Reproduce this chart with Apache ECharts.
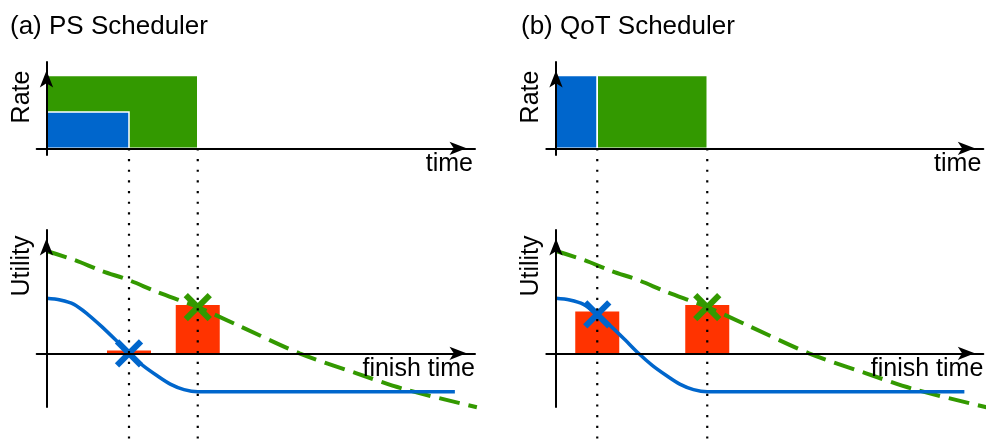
<!DOCTYPE html>
<html>
<head>
<meta charset="utf-8">
<script src="https://cdn.jsdelivr.net/npm/echarts@6/dist/echarts.min.js"></script>
<style>
  html, body { margin: 0; padding: 0; background: #fff; }
  #chart { width: 987px; height: 439px; }
</style>
</head>
<body>
<div id="chart"></div>
<script>
// ---- data ----------------------------------------------------------
const panelTitles = ['(a) PS Scheduler', '(b) QoT Scheduler'];
const rateLabel = 'Rate';
const utilityLabel = 'Utility';
const timeLabel = 'time';
const finishLabel = 'finish time';

// rate allocation intervals: [start, end, rate]
const psGreenRate = [[0, 11, 1]];
const psBlueRate = [[0, 6, 0.5]];
const qotBlueRate = [[0, 3, 1]];
const qotGreenRate = [[3, 11, 1]];

// job finish times (dotted guides)
const psFinish = [6, 11];
const qotFinish = [3, 11];

// utility functions over finish time
const blueUtilX = [0, 1, 2, 3, 4, 5, 6, 7, 8, 9, 10, 11, 29.7];
const blueUtilY = [1.0, 0.97, 0.89, 0.71, 0.49, 0.25, 0, -0.22, -0.40, -0.56, -0.66, -0.70, -0.70];
const greenUtilX = [0, 2, 4, 6, 8, 11, 14, 18.4, 22.5, 26, 31.3];
const greenUtilY = [1.86, 1.70, 1.50, 1.33, 1.12, 0.84, 0.50, 0, -0.36, -0.65, -0.98];

// utility obtained by each job: [finish time, utility]
const psGained = [[6, 0.05], [11, 0.88]];
const qotGained = [[3, 0.76], [11, 0.88]];

// points where each job lands on its utility curve
const psBlueCross = [[6, 0]];
const psGreenCross = [[11, 0.84]];
const qotBlueCross = [[3, 0.71]];
const qotGreenCross = [[11, 0.84]];

// ---- styling / layout ----------------------------------------------
const BLUE = '#0066CC', GREEN = '#339900', RED = '#FF3300';
const FONT = '"Liberation Sans", Arial, sans-serif';
const FS = 25;
const TITLE_FS = 26;
const PX_PER_T = 13.75;
const panels = [
  { start: 36.7, origin: 46.5, tip: 475, titleX: 10,
    rates: [[psGreenRate, GREEN], [psBlueRate, BLUE]],
    finish: psFinish, gained: psGained,
    crosses: [[psGreenCross, GREEN], [psBlueCross, BLUE]] },
  { start: 546.3, origin: 556, tip: 983.3, titleX: 521,
    rates: [[qotBlueRate, BLUE], [qotGreenRate, GREEN]],
    finish: qotFinish, gained: qotGained,
    crosses: [[qotGreenCross, GREEN], [qotBlueCross, BLUE]] }
];

const arrowLine = {
  show: true, onZero: true,
  symbol: ['none', 'arrow'], symbolSize: [10, 17], symbolOffset: [0, -8.5],
  lineStyle: { color: '#000', width: 2 }
};
const hiddenBits = { axisTick: { show: false }, axisLabel: { show: false }, splitLine: { show: false } };

const grid = [], xAxis = [], yAxis = [], series = [], graphic = [], title = [];

function label(text, x, y, rotate) {
  return { type: 'text', x: x, y: y, rotation: rotate ? Math.PI / 2 : 0, z: 10,
    style: { text: text, font: FS + 'px ' + FONT, fill: '#000',
      align: rotate ? 'center' : 'right', textAlign: rotate ? 'center' : 'right',
      verticalAlign: 'middle', textVerticalAlign: 'middle' } };
}

panels.forEach(function (p, i) {
  const xmin = -(p.origin - p.start) / PX_PER_T;
  const xmax = (p.tip - p.origin) / PX_PER_T;
  const width = p.tip - p.start;
  const g0 = grid.length;

  // rate chart, utility chart, full-height overlay for finish-time guides
  grid.push({ left: p.start, top: 62, width: width, height: 93, containLabel: false });
  grid.push({ left: p.start, top: 230, width: width, height: 177, containLabel: false });
  grid.push({ left: p.start, top: 148.3, width: width, height: 290.7, containLabel: false });

  [0, 1, 2].forEach(function (k) {
    xAxis.push(Object.assign({ type: 'value', gridIndex: g0 + k, min: xmin, max: xmax, show: k < 2,
      z: 8, axisLine: arrowLine }, hiddenBits));
  });
  yAxis.push(Object.assign({ type: 'value', gridIndex: g0, min: -0.092, max: 1.185, z: 8, axisLine: arrowLine }, hiddenBits));
  yAxis.push(Object.assign({ type: 'value', gridIndex: g0 + 1, min: -0.976, max: 2.242, z: 8, axisLine: arrowLine }, hiddenBits));
  yAxis.push(Object.assign({ type: 'value', gridIndex: g0 + 2, min: 0, max: 1, show: false }, hiddenBits));

  // rate rectangles
  p.rates.forEach(function (r) {
    series.push({
      type: 'custom', xAxisIndex: g0, yAxisIndex: g0, z: 1,
      data: r[0],
      renderItem: function (params, api) {
        const a = api.coord([api.value(0), api.value(2)]);
        const b = api.coord([api.value(1), 0]);
        return { type: 'rect',
          shape: { x: a[0], y: a[1], width: b[0] - a[0], height: b[1] - a[1] },
          style: { fill: r[1], stroke: '#fff', lineWidth: 1.5 } };
      }
    });
  });

  // utility gained bars
  series.push({ type: 'bar', xAxisIndex: g0 + 1, yAxisIndex: g0 + 1, data: p.gained,
    barWidth: 44, itemStyle: { color: RED }, z: 1, silent: true });

  // utility curves
  series.push({ type: 'line', xAxisIndex: g0 + 1, yAxisIndex: g0 + 1, z: 2, clip: false,
    data: greenUtilX.map(function (x, j) { return [x, greenUtilY[j]]; }),
    smooth: 0.3, symbol: 'none', lineStyle: { color: GREEN, width: 4, type: [21, 9] } });
  series.push({ type: 'line', xAxisIndex: g0 + 1, yAxisIndex: g0 + 1, z: 3, clip: false,
    data: blueUtilX.map(function (x, j) { return [x, blueUtilY[j]]; }),
    smooth: 0.3, symbol: 'none', lineStyle: { color: BLUE, width: 3.5 } });

  // cross markers
  p.crosses.forEach(function (c) {
    series.push({
      type: 'custom', xAxisIndex: g0 + 1, yAxisIndex: g0 + 1, z: 4, data: c[0],
      renderItem: function (params, api) {
        const pt = api.coord([api.value(0), api.value(1)]);
        const r = 12;
        return { type: 'group', children: [
          { type: 'line', shape: { x1: pt[0] - r, y1: pt[1] - r, x2: pt[0] + r, y2: pt[1] + r },
            style: { stroke: c[1], lineWidth: 6 } },
          { type: 'line', shape: { x1: pt[0] - r, y1: pt[1] + r, x2: pt[0] + r, y2: pt[1] - r },
            style: { stroke: c[1], lineWidth: 6 } }
        ] };
      }
    });
  });

  // dotted finish-time guides
  p.finish.forEach(function (t) {
    series.push({ type: 'line', xAxisIndex: g0 + 2, yAxisIndex: g0 + 2, z: 9,
      data: [[t, 1], [t, 0]], symbol: 'none',
      lineStyle: { color: '#000', width: 2.2, type: [2.2, 8.47] } });
  });

  // titles and axis names
  title.push({ text: panelTitles[i], left: p.titleX, top: 14, padding: 0,
    textStyle: { fontFamily: FONT, fontSize: TITLE_FS, fontWeight: 'normal', color: '#000' } });
  graphic.push(label(timeLabel, p.tip - 2, 164, false));
  graphic.push(label(finishLabel, p.tip, 369.5, false));
  graphic.push(label(rateLabel, p.start - 15, 97, true));
  graphic.push(label(utilityLabel, p.start - 15, 266, true));
});

const chart = echarts.init(document.getElementById('chart'), null, { renderer: 'canvas' });
chart.setOption({
  animation: false,
  backgroundColor: '#fff',
  title: title,
  grid: grid,
  xAxis: xAxis,
  yAxis: yAxis,
  series: series,
  graphic: graphic
});
</script>
</body>
</html>
